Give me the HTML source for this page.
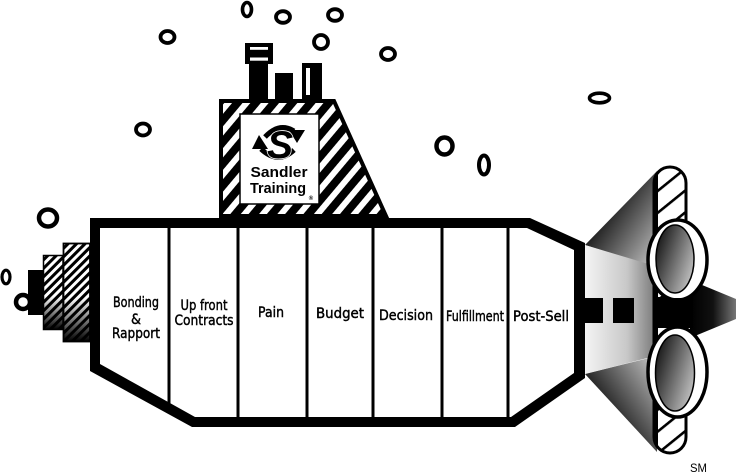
<!DOCTYPE html>
<html><head><meta charset="utf-8">
<style>html,body{margin:0;padding:0;background:#fff;overflow:hidden}svg{display:block}</style>
</head>
<body>
<svg width="736" height="474" viewBox="0 0 736 474" xmlns="http://www.w3.org/2000/svg">
<defs>
  <pattern id="tw" patternUnits="userSpaceOnUse" width="14" height="14" patternTransform="rotate(-50)">
    <rect width="14" height="14" fill="#000"/>
    <rect width="14" height="6" fill="#fff"/>
  </pattern>
  <pattern id="hs" patternUnits="userSpaceOnUse" width="20" height="17" patternTransform="rotate(-39)">
    <rect width="20" height="17" fill="#fff"/>
    <rect width="20" height="2.6" fill="#000"/>
  </pattern>
  <pattern id="nb" patternUnits="userSpaceOnUse" width="6" height="6" patternTransform="rotate(-45)">
    <rect width="6" height="6" fill="#000"/>
    <rect width="6" height="3" fill="#fff"/>
  </pattern>
  <linearGradient id="fade" x1="0" y1="0" x2="0" y2="1">
    <stop offset="0.55" stop-color="#000" stop-opacity="0"/>
    <stop offset="1" stop-color="#000" stop-opacity="1"/>
  </linearGradient>
  <linearGradient id="finT" x1="0.25" y1="0.25" x2="1" y2="0.95">
    <stop offset="0" stop-color="#000"/>
    <stop offset="1" stop-color="#c4c4c4"/>
  </linearGradient>
  <linearGradient id="finB" x1="0.25" y1="0.75" x2="1" y2="0.05">
    <stop offset="0" stop-color="#000"/>
    <stop offset="1" stop-color="#c4c4c4"/>
  </linearGradient>
  <linearGradient id="mid" x1="0" y1="0" x2="1" y2="0">
    <stop offset="0" stop-color="#f4f4f4"/>
    <stop offset="0.6" stop-color="#c8c8c8"/>
    <stop offset="1" stop-color="#7a7a7a"/>
  </linearGradient>
  <linearGradient id="blade" x1="0" y1="0.2" x2="1" y2="0.8">
    <stop offset="0" stop-color="#111"/>
    <stop offset="1" stop-color="#c8c8c8"/>
  </linearGradient>
  <linearGradient id="tail" x1="0" y1="0" x2="1" y2="0">
    <stop offset="0" stop-color="#000"/>
    <stop offset="0.5" stop-color="#111"/>
    <stop offset="1" stop-color="#777"/>
  </linearGradient>
  <clipPath id="hclip"><rect x="654" y="167" width="32" height="286" rx="16"/></clipPath>
</defs>

<rect width="736" height="474" fill="#fff"/>

<!-- bubbles -->
<g fill="none" stroke="#000">
  <ellipse cx="247" cy="9.5" rx="4.5" ry="7" stroke-width="3.6"/>
  <ellipse cx="283" cy="17" rx="7" ry="5.8" stroke-width="3.8"/>
  <ellipse cx="335" cy="15" rx="7" ry="5.8" stroke-width="3.8"/>
  <ellipse cx="167.5" cy="37" rx="7" ry="6" stroke-width="3.8"/>
  <ellipse cx="321" cy="42" rx="7" ry="7" stroke-width="3.8"/>
  <ellipse cx="388" cy="54" rx="7" ry="6" stroke-width="3.8"/>
  <ellipse cx="143" cy="129.5" rx="7" ry="6" stroke-width="3.8"/>
  <ellipse cx="599.5" cy="98" rx="10" ry="4.8" stroke-width="3.6"/>
  <ellipse cx="444.5" cy="146" rx="8" ry="8.5" stroke-width="4.5"/>
  <ellipse cx="484" cy="165" rx="5" ry="9.5" stroke-width="4"/>
  <ellipse cx="48" cy="218" rx="9" ry="8.5" stroke-width="4.5"/>
  <ellipse cx="6" cy="277" rx="4" ry="6.8" stroke-width="3.2"/>
  <circle cx="23" cy="302" r="7" stroke-width="4.5"/>
</g>

<!-- periscopes -->
<g fill="#000">
  <rect x="245" y="43" width="28" height="21"/>
  <rect x="249" y="63" width="19" height="39"/>
  <rect x="275" y="73" width="18" height="29"/>
  <rect x="302" y="63" width="20" height="39"/>
</g>
<rect x="250" y="47" width="18" height="2.8" fill="#fff"/>
<rect x="250" y="57.5" width="18" height="3.2" fill="#fff"/>
<rect x="306" y="68" width="4" height="27" fill="#fff"/>

<!-- tower -->
<polygon points="221,101 334,101 386,216 221,216" fill="url(#tw)" stroke="#000" stroke-width="4" stroke-linejoin="miter"/>
<rect x="240" y="114" width="79" height="90" fill="#fff" stroke="#000" stroke-width="1.5"/>
<!-- logo -->
<g>
  <path d="M265 137 Q279 122 294 131" fill="none" stroke="#000" stroke-width="5"/>
  <polygon points="289,130 305,130 297,143" fill="#000"/>
  <path d="M294 150 Q278 165 261 149" fill="none" stroke="#000" stroke-width="5"/>
  <polygon points="252,149 268,149 259,135" fill="#000"/>
  <text x="280" y="158" font-family="Liberation Sans, sans-serif" font-size="39" font-weight="bold" font-style="italic" text-anchor="middle" fill="#000" stroke="#fff" stroke-width="1.5" paint-order="stroke">S</text>
  <text x="279" y="177" font-family="Liberation Sans, sans-serif" font-size="15" font-weight="bold" text-anchor="middle" textLength="57" lengthAdjust="spacingAndGlyphs" fill="#000">Sandler</text>
  <text x="278" y="193" font-family="Liberation Sans, sans-serif" font-size="15" font-weight="bold" text-anchor="middle" textLength="56" lengthAdjust="spacingAndGlyphs" fill="#000">Training</text>
  <text x="311" y="200" font-family="Liberation Sans, sans-serif" font-size="6" font-weight="bold" text-anchor="middle" fill="#000">®</text>
</g>

<!-- hull dividers -->
<g fill="#000">
  <rect x="167.5" y="228" width="3" height="176"/>
  <rect x="236.5" y="228" width="3" height="190"/>
  <rect x="305.5" y="228" width="3" height="190"/>
  <rect x="371.5" y="228" width="3" height="190"/>
  <rect x="440.5" y="228" width="3" height="190"/>
  <rect x="506.5" y="228" width="3" height="190"/>
</g>
<!-- hull border -->
<path fill="#000" fill-rule="evenodd" d="M90 218 L530 218 L585 243 L585 378 L515 427 L192 427 L90 371 Z M100 228 L527 228 L574 250 L574 373 L511 417 L195 417 L100 364 Z"/>

<!-- labels -->
<g font-family="DejaVu Sans, Liberation Sans, sans-serif" font-size="14.5" fill="#000" stroke="#000" stroke-width="0.45" text-anchor="middle">
  <text x="136" y="307" textLength="46" lengthAdjust="spacingAndGlyphs">Bonding</text>
  <text x="136" y="324" textLength="10" lengthAdjust="spacingAndGlyphs">&amp;</text>
  <text x="136" y="338" textLength="48" lengthAdjust="spacingAndGlyphs">Rapport</text>
  <text x="204" y="310" textLength="47" lengthAdjust="spacingAndGlyphs">Up front</text>
  <text x="204" y="325" textLength="59" lengthAdjust="spacingAndGlyphs">Contracts</text>
  <text x="271" y="317" textLength="26" lengthAdjust="spacingAndGlyphs">Pain</text>
  <text x="340" y="318" textLength="48" lengthAdjust="spacingAndGlyphs">Budget</text>
  <text x="406" y="320" textLength="54" lengthAdjust="spacingAndGlyphs">Decision</text>
  <text x="475" y="321" textLength="58" lengthAdjust="spacingAndGlyphs">Fulfillment</text>
  <text x="541" y="321" textLength="56" lengthAdjust="spacingAndGlyphs">Post-Sell</text>
</g>

<!-- nose blocks -->
<rect x="28" y="270" width="15" height="45" fill="#000"/>
<rect x="43.5" y="255.5" width="19.5" height="74" fill="url(#nb)" stroke="#000" stroke-width="1.5"/>
<rect x="43.5" y="255.5" width="19.5" height="74" fill="url(#fade)"/>
<rect x="63.5" y="243.5" width="26.5" height="98" fill="url(#nb)" stroke="#000" stroke-width="1.8"/>
<rect x="63.5" y="243.5" width="26.5" height="98" fill="url(#fade)"/>

<!-- cone -->
<polygon points="585,245 657,171 657,268" fill="url(#finT)"/>
<polygon points="585,374 657,452 657,356" fill="url(#finB)"/>
<polygon points="585,245 655,266 655,356 585,374" fill="url(#mid)"/>
<rect x="585" y="298" width="18" height="25" fill="#000"/>
<rect x="613" y="298" width="21" height="25" fill="#000"/>

<!-- tail -->
<polygon points="690,280 736,299 736,319 690,338" fill="url(#tail)"/>

<!-- housing -->
<rect x="654" y="167" width="32" height="286" rx="16" fill="url(#hs)"/>
<rect x="654" y="167" width="4" height="286" fill="#000" clip-path="url(#hclip)"/>
<rect x="654" y="167" width="32" height="286" rx="16" fill="none" stroke="#000" stroke-width="3"/>

<!-- hub -->
<rect x="654" y="297" width="39" height="31" fill="#000"/>

<!-- blades -->
<ellipse cx="677.5" cy="260" rx="29.5" ry="40" fill="#fff" stroke="#000" stroke-width="3.5"/>
<ellipse cx="675" cy="259" rx="19" ry="34" fill="url(#blade)" stroke="#000" stroke-width="1.5"/>
<ellipse cx="677.5" cy="372" rx="29.5" ry="45" fill="#fff" stroke="#000" stroke-width="3.5"/>
<ellipse cx="675" cy="373" rx="19.5" ry="38" fill="url(#blade)" stroke="#000" stroke-width="1.5"/>
<rect x="660" y="298" width="33" height="29" fill="#000"/>

<!-- SM -->
<text x="690" y="472" font-family="Liberation Sans, sans-serif" font-size="12" fill="#000" textLength="17" lengthAdjust="spacingAndGlyphs">SM</text>
</svg>
</body></html>
